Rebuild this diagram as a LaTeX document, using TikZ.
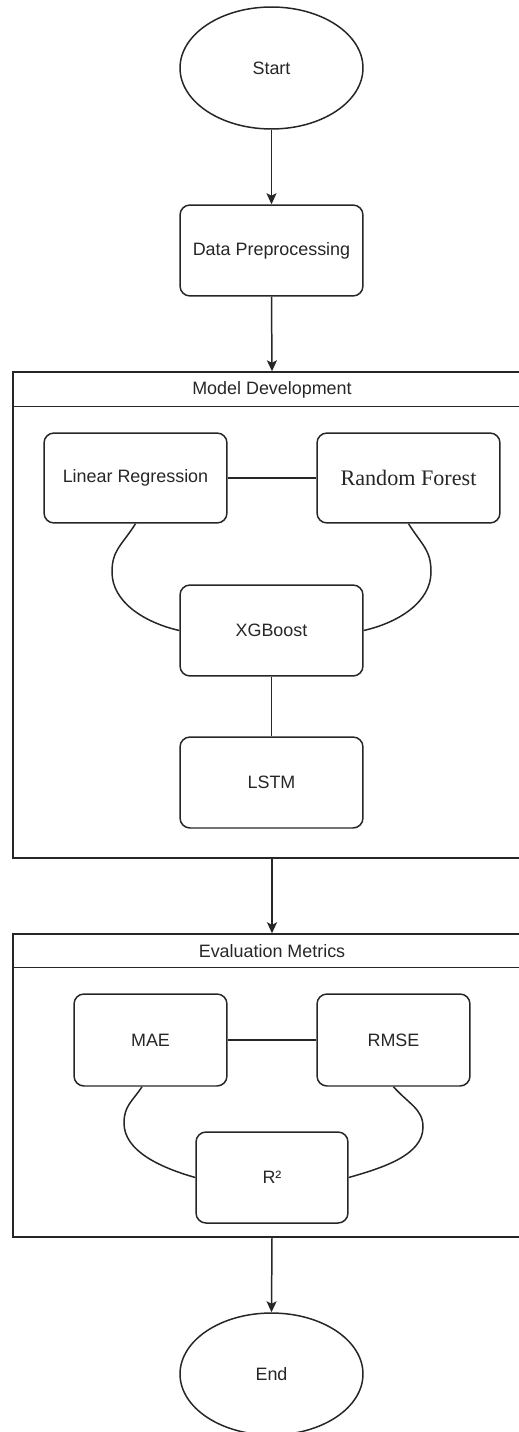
\documentclass[tikz,border=0pt]{standalone}
\usepackage{fontspec}
\setmainfont{Liberation Sans}
\newfontfamily\rfserif{Liberation Serif}
\usetikzlibrary{shapes.geometric,arrows.meta,calc}

\begin{document}
\begin{tikzpicture}[x=0.02cm,y=-0.02cm,
  every node/.style={font=\fontsize{10.2}{12}\selectfont, text=black!85},
  line/.style={draw=black!85, line width=0.85pt},
  flow/.style={line, -{Stealth[length=0.22cm,width=0.2cm,inset=0.05cm]}},
  stepbox/.style={line, rounded corners=0.2cm, inner sep=0pt,
                  minimum width=3.66cm, minimum height=1.82cm},
  metricbox/.style={stepbox, minimum width=3.06cm, minimum height=1.84cm},
  terminal/.style={line, ellipse, inner sep=0pt,
                   minimum width=3.66cm, minimum height=2.44cm},
  group/.style={line, inner sep=0pt, minimum width=10.36cm}]

\useasboundingbox (0,0) rectangle (519,1432);
\clip (0,0) rectangle (519,1432);

% start and preprocessing
\node[terminal] (start) at (271.5,68) {Start};
\node[stepbox] (dp) at (271.5,250.5) {Data Preprocessing};

% model development group
\node[group, minimum height=9.72cm] (md) at (272,615) {};
\draw[line] ($(md.north west)+(0,35)$) -- ($(md.north east)+(0,35)$);
\node (mdtitle) at (272,389.5) {Model Development};

\node[stepbox, minimum height=1.8cm] (lr) at (135.5,478) {Linear Regression};
\node[stepbox, minimum height=1.8cm, font=\rfserif\fontsize{12.6}{14}\selectfont] (rf) at (408.5,478) {Random Forest};
\node[stepbox] (xgb) at (271.5,630.5) {XGBoost};
\node[stepbox] (lstm) at (271.5,782.5) {LSTM};

\coordinate (bendA) at (112,572);
\coordinate (bendB) at (431,572);

\draw[line] (lr.east) -- (rf.west);
\draw[line] (xgb.south) -- (lstm.north);
\draw[line] (lr.south) .. controls +(-14,22) and +(0,-22) .. (bendA)
                       .. controls +(0,30) and +(-35,-8) .. (xgb.west);
\draw[line] (rf.south) .. controls +(14,22) and +(0,-22) .. (bendB)
                       .. controls +(0,30) and +(35,-8) .. (xgb.east);

% evaluation metrics group
\node[group, minimum height=6.06cm] (em) at (272,1085.5) {};
\draw[line] ($(em.north west)+(0,34)$) -- ($(em.north east)+(0,34)$);
\node (emtitle) at (272,951) {Evaluation Metrics};

\node[metricbox] (mae) at (150.5,1040) {MAE};
\node[metricbox] (rmse) at (393.5,1040) {RMSE};
\node[stepbox, minimum width=3.04cm] (r2) at (272,1177.5) {R²};

\coordinate (bendC) at (124,1123);
\coordinate (bendD) at (423,1127);

\draw[line] (mae.east) -- (rmse.west);
\draw[line] ($(mae.south)+(-8.5,0)$) .. controls +(-10,15) and +(0,-17) .. (bendC)
                       .. controls +(0,28) and +(-35,-10) .. (r2.west);
\draw[line] (rmse.south) .. controls +(15,17) and +(0,-18) .. (bendD)
                       .. controls +(0,28) and +(35,-10) .. (r2.east);

% end
\node[terminal] (end) at (271.5,1374) {End};

% main flow
\draw[flow] (start.south) -- (dp.north);
\draw[flow] (dp.south) -- (md.north);
\draw[flow] (md.south) -- (em.north);
\draw[flow] (em.south) -- (end.north);
\end{tikzpicture}
\end{document}
